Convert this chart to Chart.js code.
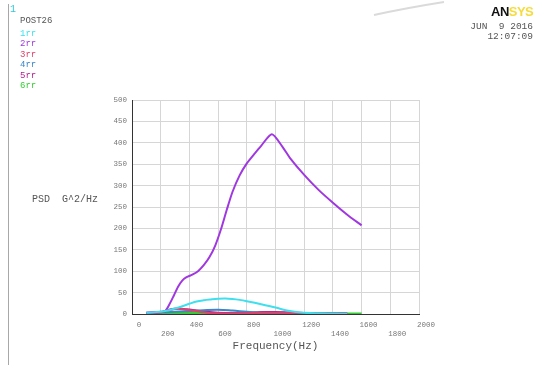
<!DOCTYPE html>
<html>
<head>
<meta charset="utf-8">
<script src="https://cdn.jsdelivr.net/npm/chart.js@4.4.1/dist/chart.umd.min.js"></script>
<style>
  html, body { margin: 0; padding: 0; background: #fff; }
  #wrap { position: relative; width: 542px; height: 367px; overflow: hidden; font-family: "Liberation Mono", monospace; }
  #plot { position: absolute; left: 0; top: 0; }
  .t { position: absolute; white-space: pre; line-height: 1; }
  #frame { position: absolute; left: 8px; top: 4px; width: 1px; height: 361px; background: #a8a8a8; }
</style>
</head>
<body>
<div id="wrap">
  <canvas id="plot" width="542" height="367"></canvas>
  <div id="frame"></div>
  <svg style="position:absolute;left:0;top:0" width="542" height="367">
    <path d="M374 15 Q 406 8 444 2" stroke="#dadada" stroke-width="2" fill="none"/>
  </svg>
  <div class="t" style="left:10px;top:5px;font-size:10px;color:#30c8d8">1</div>
  <div class="t" style="left:20px;top:17px;font-size:9px;color:#555">POST26</div>
  <div id="legend"></div>
  <div class="t" style="left:491px;top:5px;font-family:'Liberation Sans',Arial,sans-serif;font-weight:bold;font-size:13px;letter-spacing:-0.5px"><span style="color:#111">AN</span><span style="color:#f5dc3c">SYS</span></div>
  <div class="t" style="right:9px;top:22px;font-size:9.5px;color:#555">JUN  9 2016</div>
  <div class="t" style="right:9px;top:32px;font-size:9.5px;color:#555">12:07:09</div>
  <div class="t" style="left:32px;top:195px;font-size:10px;color:#555">PSD  G^2/Hz</div>
</div>
<script>
// Response PSD of six result variables versus frequency
const seriesNames = ['1rr', '2rr', '3rr', '4rr', '5rr', '6rr'];
const seriesColors = ['#3ee0ee', '#a038e0', '#e0406a', '#3a86c6', '#b0208f', '#34cc34'];

const freq1 = [100, 200, 250, 300, 350, 400, 450, 500, 550, 600, 650, 700, 750, 800, 900, 1000, 1100, 1200, 1300, 1400, 1500];
const psd1  = [3, 5, 8, 13, 18, 24, 29, 32, 34, 35.5, 36, 35, 33, 30, 23, 15, 7, 3, 1.5, 1, 0.5];

const freq2 = [100, 150, 200, 230, 260, 290, 320, 350, 380, 420, 460, 500, 540, 580, 620, 660, 700, 750, 800, 850, 900, 975, 1050, 1100, 1200, 1300, 1400, 1500, 1600];
const psd2  = [3, 4, 5, 6, 22, 42, 63, 78, 86, 92, 100, 114, 133, 160, 198, 243, 285, 324, 352, 373, 393, 420, 390, 365, 325, 290, 260, 232, 207];

const freq3 = [100, 200, 260, 320, 380, 450, 500, 550, 600, 700, 800, 900, 1000, 1100, 1200, 1300, 1400, 1500];
const psd3  = [2, 4, 9, 12, 10, 7, 4, 2, 1.5, 1, 2, 3, 3, 2.5, 2, 1.5, 1, 1];

const freq4 = [100, 200, 300, 400, 500, 600, 700, 800, 900, 1000, 1100, 1200, 1400, 1500];
const psd4  = [3, 4, 5, 7, 9, 10, 8, 5, 3, 2, 1.5, 1, 0.5, 0.5];

const freq5 = [100, 200, 260, 320, 380, 450, 520, 600, 700, 800, 900, 1000, 1100, 1200, 1300, 1400, 1500];
const psd5  = [2, 4, 10, 13, 11, 8, 5, 3, 2, 3, 4.5, 4.5, 3.5, 2.5, 2, 1.5, 1];

const freq6 = [100, 300, 500, 700, 900, 1100, 1300, 1600];
const psd6  = [0.5, 1.5, 2, 1.5, 1, 1, 0.8, 0.5];

const xTicks = [0, 200, 400, 600, 800, 1000, 1200, 1400, 1600, 1800, 2000];
const yTicks = [0, 50, 100, 150, 200, 250, 300, 350, 400, 450, 500];

const freqs = [freq1, freq2, freq3, freq4, freq5, freq6];
const psds  = [psd1, psd2, psd3, psd4, psd5, psd6];

// legend entries in the header block
const legend = document.getElementById('legend');
const legendTops = [30, 40, 51, 61, 72, 82];
seriesNames.forEach((n, i) => {
  const d = document.createElement('div');
  d.className = 't';
  d.style.left = '20px';
  d.style.top = legendTops[i] + 'px';
  d.style.fontSize = '9px';
  d.style.color = seriesColors[i];
  d.textContent = n;
  legend.appendChild(d);
});

const datasets = seriesNames.map((n, i) => ({
  label: n,
  data: freqs[i].map((f, k) => ({ x: f, y: psds[i][k] })),
  borderColor: seriesColors[i],
  borderWidth: i === 5 ? 2.5 : 2,
  pointRadius: 0,
  fill: false,
  tension: i === 1 ? 0.25 : 0.4
}));

const tickFont = { family: 'Liberation Mono', size: 7.5 };

new Chart(document.getElementById('plot'), {
  type: 'line',
  data: { datasets },
  options: {
    responsive: false,
    animation: false,
    events: [],
    layout: { padding: { left: 0, top: 100, right: 123, bottom: 0 } },
    plugins: { legend: { display: false }, tooltip: { enabled: false } },
    scales: {
      x: {
        type: 'linear',
        min: 0, max: 2000,
        afterBuildTicks: s => { s.ticks = xTicks.map(v => ({ value: v })); },
        afterFit: s => { s.height = 53; },
        grid: { color: '#d6d6d6', lineWidth: 1, drawTicks: false },
        border: { display: true, color: '#333', width: 1 },
        ticks: {
          font: tickFont, color: '#777', padding: 7, maxRotation: 0, autoSkip: false,
          labelOffset: 7, lineHeight: 1.2,
          callback: (v, idx) => (idx % 2 === 1 ? ['', String(v)] : String(v))
        },
        title: {
          display: true, text: 'Frequency(Hz)', color: '#555',
          font: { family: 'Liberation Mono', size: 11 },
          padding: { top: 0, bottom: 14 }
        }
      },
      y: {
        type: 'linear',
        min: 0, max: 500,
        afterBuildTicks: s => { s.ticks = yTicks.map(v => ({ value: v })); },
        afterFit: s => { s.width = 132; },
        grid: { color: '#d6d6d6', lineWidth: 1, drawTicks: false },
        border: { display: true, color: '#333', width: 1 },
        ticks: { font: tickFont, color: '#777', padding: 5 }
      }
    }
  }
});
</script>
</body>
</html>
